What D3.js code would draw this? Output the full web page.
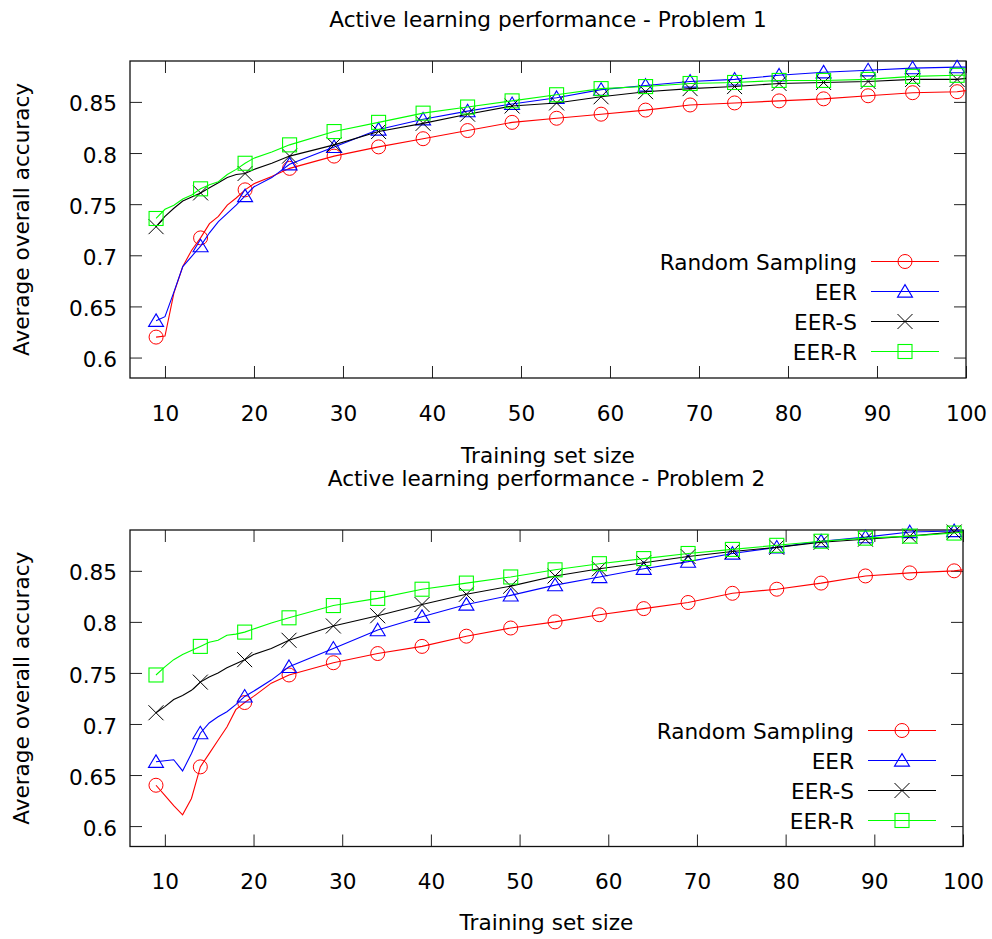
<!DOCTYPE html>
<html>
<head>
<meta charset="utf-8">
<script src="https://cdn.jsdelivr.net/npm/d3@7"></script>
<style>
  html, body { margin: 0; padding: 0; background: #fff; }
  svg { display: block; }
  text { font-family: "DejaVu Sans", Verdana, sans-serif; fill: #000; }
</style>
</head>
<body>
<svg id="chart" width="992" height="939"></svg>
<script>
// ---------------- DATA ----------------
const trainSizes = [9,10,11,12,13,14,15,16,17,18,19,20,22,24,29,34,39,44,49,54,59,64,69,74,79,84,89,94,99,100];

const seriesNames = ["Random Sampling", "EER", "EER-S", "EER-R"];

// Problem 1
const p1Random = [0.620,0.621,0.663,0.689,0.705,0.717,0.731,0.738,0.749,0.756,0.764,0.770,0.777,0.785,0.797,0.806,0.814,0.822,0.830,0.834,0.838,0.842,0.847,0.849,0.851,0.853,0.856,0.859,0.860,0.861];
const p1EER    = [0.636,0.640,0.664,0.689,0.699,0.709,0.722,0.733,0.741,0.749,0.758,0.767,0.776,0.789,0.806,0.823,0.833,0.841,0.848,0.854,0.862,0.866,0.870,0.872,0.876,0.879,0.881,0.883,0.884,0.884];
const p1EERS   = [0.728,0.738,0.746,0.753,0.757,0.761,0.766,0.771,0.776,0.779,0.780,0.784,0.790,0.797,0.808,0.821,0.829,0.838,0.846,0.849,0.855,0.860,0.863,0.865,0.868,0.869,0.870,0.872,0.872,0.873];
const p1EERR   = [0.736,0.745,0.749,0.755,0.759,0.765,0.769,0.772,0.779,0.784,0.790,0.795,0.801,0.808,0.821,0.830,0.839,0.845,0.851,0.857,0.863,0.865,0.868,0.869,0.871,0.871,0.872,0.875,0.876,0.876];

// Problem 2
const p2Random = [0.640,0.630,0.620,0.611,0.627,0.658,0.671,0.684,0.697,0.714,0.721,0.727,0.740,0.748,0.760,0.769,0.776,0.786,0.794,0.800,0.807,0.813,0.819,0.828,0.832,0.838,0.845,0.848,0.850,0.851];
const p2EER    = [0.663,0.664,0.665,0.654,0.671,0.691,0.701,0.707,0.712,0.719,0.727,0.732,0.743,0.756,0.774,0.792,0.805,0.817,0.826,0.836,0.844,0.852,0.859,0.867,0.873,0.879,0.883,0.888,0.889,0.889];
const p2EERS   = [0.711,0.717,0.724,0.728,0.733,0.741,0.746,0.750,0.755,0.759,0.763,0.768,0.774,0.782,0.796,0.806,0.817,0.827,0.835,0.845,0.852,0.858,0.864,0.869,0.873,0.878,0.881,0.884,0.888,0.888];
const p2EERR   = [0.748,0.756,0.763,0.768,0.772,0.776,0.780,0.782,0.787,0.788,0.790,0.793,0.799,0.804,0.816,0.823,0.832,0.838,0.844,0.851,0.857,0.862,0.867,0.871,0.875,0.879,0.882,0.884,0.887,0.888];

const xTicks = [10,20,30,40,50,60,70,80,90,100];
const yTicks = [0.6,0.65,0.7,0.75,0.8,0.85];
const xDomain = [6.07, 100];
const yDomain = [0.58, 0.89];
const markerStart = 9, markerStep = 5, markerEnd = 99;

const titles = ["Active learning performance - Problem 1", "Active learning performance - Problem 2"];
const xLabel = "Training set size";
const yLabel = "Average overall accuracy";

// ---------------- STYLE ----------------
const colors = ["#ff0000", "#0000ff", "#000000", "#00ff00"];
const shapes = ["circle", "triangle", "cross", "square"];
const FS = 21.6;

const panels = [
  { data: [p1Random, p1EER, p1EERS, p1EERR], title: titles[0],
    left: 130, right: 966, top: 61, bottom: 378,
    titleY: 26.5, tickBase: 43, xlabY: 462.5 },
  { data: [p2Random, p2EER, p2EERS, p2EERR], title: titles[1],
    left: 130, right: 963, top: 530, bottom: 846.5,
    titleY: 485.5, tickBase: 42, xlabY: 930 }
];

const svg = d3.select("#chart");

function drawMarker(g, shape, cx, cy, color) {
  if (shape === "circle") {
    g.append("circle").attr("cx", cx).attr("cy", cy).attr("r", 7)
      .attr("fill", "none").attr("stroke", color).attr("stroke-width", 1);
  } else if (shape === "triangle") {
    const w = 7.5, h = 12.5;
    g.append("path")
      .attr("d", `M${cx},${cy - h * 0.55}L${cx + w},${cy + h * 0.45}L${cx - w},${cy + h * 0.45}Z`)
      .attr("fill", "none").attr("stroke", color).attr("stroke-width", 1.1);
  } else if (shape === "cross") {
    const s = 7.5;
    g.append("path")
      .attr("d", `M${cx - s},${cy - s}L${cx + s},${cy + s}M${cx - s},${cy + s}L${cx + s},${cy - s}`)
      .attr("fill", "none").attr("stroke", color).attr("stroke-width", 1);
  } else if (shape === "square") {
    const s = 7;
    g.append("rect").attr("x", cx - s).attr("y", cy - s).attr("width", 2 * s).attr("height", 2 * s)
      .attr("fill", "none").attr("stroke", color).attr("stroke-width", 1.1);
  }
}

panels.forEach(p => {
  const x = d3.scaleLinear().domain(xDomain).range([p.left, p.right]);
  const y = d3.scaleLinear().domain(yDomain).range([p.bottom, p.top]);
  const w = p.right - p.left, h = p.bottom - p.top;
  const cx = (p.left + p.right) / 2;

  // title
  svg.append("text").attr("x", cx).attr("y", p.titleY).attr("text-anchor", "middle")
    .style("font-size", FS + "px").text(p.title);

  // axes (ticks inward, mirrored)
  const gb = svg.append("g").attr("transform", `translate(0,${p.bottom})`)
    .call(d3.axisBottom(x).tickValues(xTicks).tickSize(-12).tickFormat(d3.format("d")));
  gb.selectAll("text").attr("y", p.tickBase).attr("dy", null).style("font-size", FS + "px")
    .attr("font-family", null);
  const gt = svg.append("g").attr("transform", `translate(0,${p.top})`)
    .call(d3.axisTop(x).tickValues(xTicks).tickSize(-12).tickFormat(""));
  const gl = svg.append("g").attr("transform", `translate(${p.left},0)`)
    .call(d3.axisLeft(y).tickValues(yTicks).tickSize(-12).tickFormat(d3.format("")));
  gl.selectAll("text").attr("x", -13).attr("dy", "0.42em").style("font-size", FS + "px")
    .attr("font-family", null);
  const gr = svg.append("g").attr("transform", `translate(${p.right},0)`)
    .call(d3.axisRight(y).tickValues(yTicks).tickSize(-12).tickFormat(""));
  [gb, gt, gl, gr].forEach(g => {
    g.select(".domain").remove();
    g.selectAll(".tick line").attr("stroke", "#222").attr("stroke-width", 1);
  });

  // frame
  svg.append("rect").attr("x", p.left).attr("y", p.top).attr("width", w).attr("height", h)
    .attr("fill", "none").attr("stroke", "#111").attr("stroke-width", 1.3);

  // axis labels
  svg.append("text").attr("x", cx).attr("y", p.xlabY).attr("text-anchor", "middle")
    .style("font-size", FS + "px").text(xLabel);
  svg.append("text").attr("transform", `translate(29,${(p.top + p.bottom) / 2}) rotate(-90)`)
    .attr("text-anchor", "middle").style("font-size", FS + "px").text(yLabel);

  // series
  const line = d3.line().x((d, i) => x(trainSizes[i])).y(d => y(d));
  p.data.forEach((vals, si) => {
    const g = svg.append("g");
    g.append("path").datum(vals).attr("d", line)
      .attr("fill", "none").attr("stroke", colors[si]).attr("stroke-width", 1.1);
    vals.forEach((v, i) => {
      const t = trainSizes[i];
      if (t >= markerStart && t <= markerEnd && (t - markerStart) % markerStep === 0) {
        drawMarker(g, shapes[si], x(t), y(v), colors[si]);
      }
    });
  });

  // legend
  const rowGap = 30;
  const lineEnd = p.right - 27, lineStart = lineEnd - 68, textRight = lineStart - 14;
  seriesNames.forEach((name, si) => {
    const ry = Math.round(p.bottom - 27 - (seriesNames.length - 1 - si) * rowGap) + 0.5;
    svg.append("text").attr("x", textRight).attr("y", ry + 8).attr("text-anchor", "end")
      .style("font-size", FS + "px").text(name);
    svg.append("line").attr("x1", lineStart).attr("x2", lineEnd).attr("y1", ry).attr("y2", ry)
      .attr("stroke", colors[si]).attr("stroke-width", 1);
    drawMarker(svg.append("g"), shapes[si], (lineStart + lineEnd) / 2, ry, colors[si]);
  });
});
</script>
</body>
</html>
